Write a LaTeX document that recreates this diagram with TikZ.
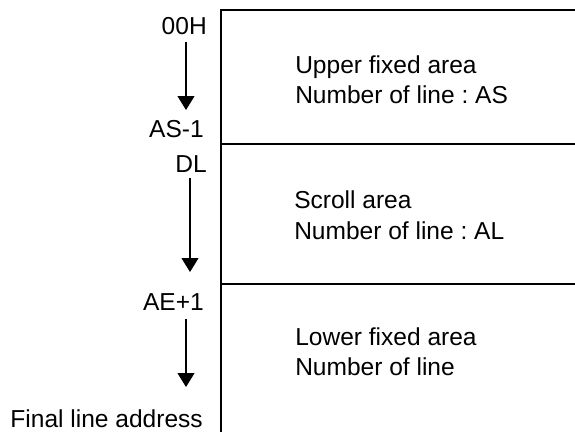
\documentclass[tikz,border=0pt]{standalone}
\usepackage{fontspec}
\setmainfont{Liberation Sans}
\usetikzlibrary{arrows.meta}
\frenchspacing

\begin{document}
\begin{tikzpicture}[x=0.75pt,y=-0.75pt,
	lbl/.style={inner sep=0pt,font=\fontsize{18.4}{22}\selectfont},
	arr/.style={line width=0.8pt,-{Triangle[width=12.75pt,length=10.5pt]}},
	wall/.style={line width=1pt}]
	%%%%% START %%%%%
	\def\xw{221}
	\def\xr{575}
	\def\yone{10}
	\def\ytwo{144}
	\def\ythree{284}
	\def\ybot{432}
	\def\xt{295}
	\useasboundingbox (0,0) rectangle (\xr,\ybot);

	% memory map
	\draw[wall] (\xw,\ybot) -- (\xw,\yone) -- (\xr,\yone);
	\draw[wall] (\xw,\ytwo) -- (\xr,\ytwo);
	\draw[wall] (\xw,\ythree) -- (\xr,\ythree);

	\node[lbl,anchor=base west] (upper) at (\xt,73) {Upper fixed area};
	\node[lbl,anchor=base west] (upperno) at (\xt,103) {Number of line : AS};
	\node[lbl,anchor=base west] (scroll) at (\xt-1,208) {Scroll area};
	\node[lbl,anchor=base west] (scrollno) at (\xt-1,239) {Number of line : AL};
	\node[lbl,anchor=base west] (lower) at (\xt,345) {Lower fixed area};
	\node[lbl,anchor=base west] (lowerno) at (\xt,375) {Number of line};

	% addresses
	\node[lbl,anchor=base east] (top) at (207,35) {00H};
	\node[lbl,anchor=base east] (as) at (204,137) {AS-1};
	\node[lbl,anchor=base east] (dl) at (207,172) {DL};
	\node[lbl,anchor=base east] (ae) at (204,310) {AE+1};
	\node[lbl,anchor=base east] (final) at (203,427) {Final line address};

	\coordinate (topgo) at (186,42);
	\coordinate (asgo) at (186,110);
	\coordinate (dlgo) at (190,178);
	\coordinate (algo) at (190,272);
	\coordinate (aego) at (186,319);
	\coordinate (fingo) at (186,387);
	\draw[arr] (topgo) -- (asgo);
	\draw[arr] (dlgo) -- (algo);
	\draw[arr] (aego) -- (fingo);
	%%%%% END %%%%%
\end{tikzpicture}
\end{document}
